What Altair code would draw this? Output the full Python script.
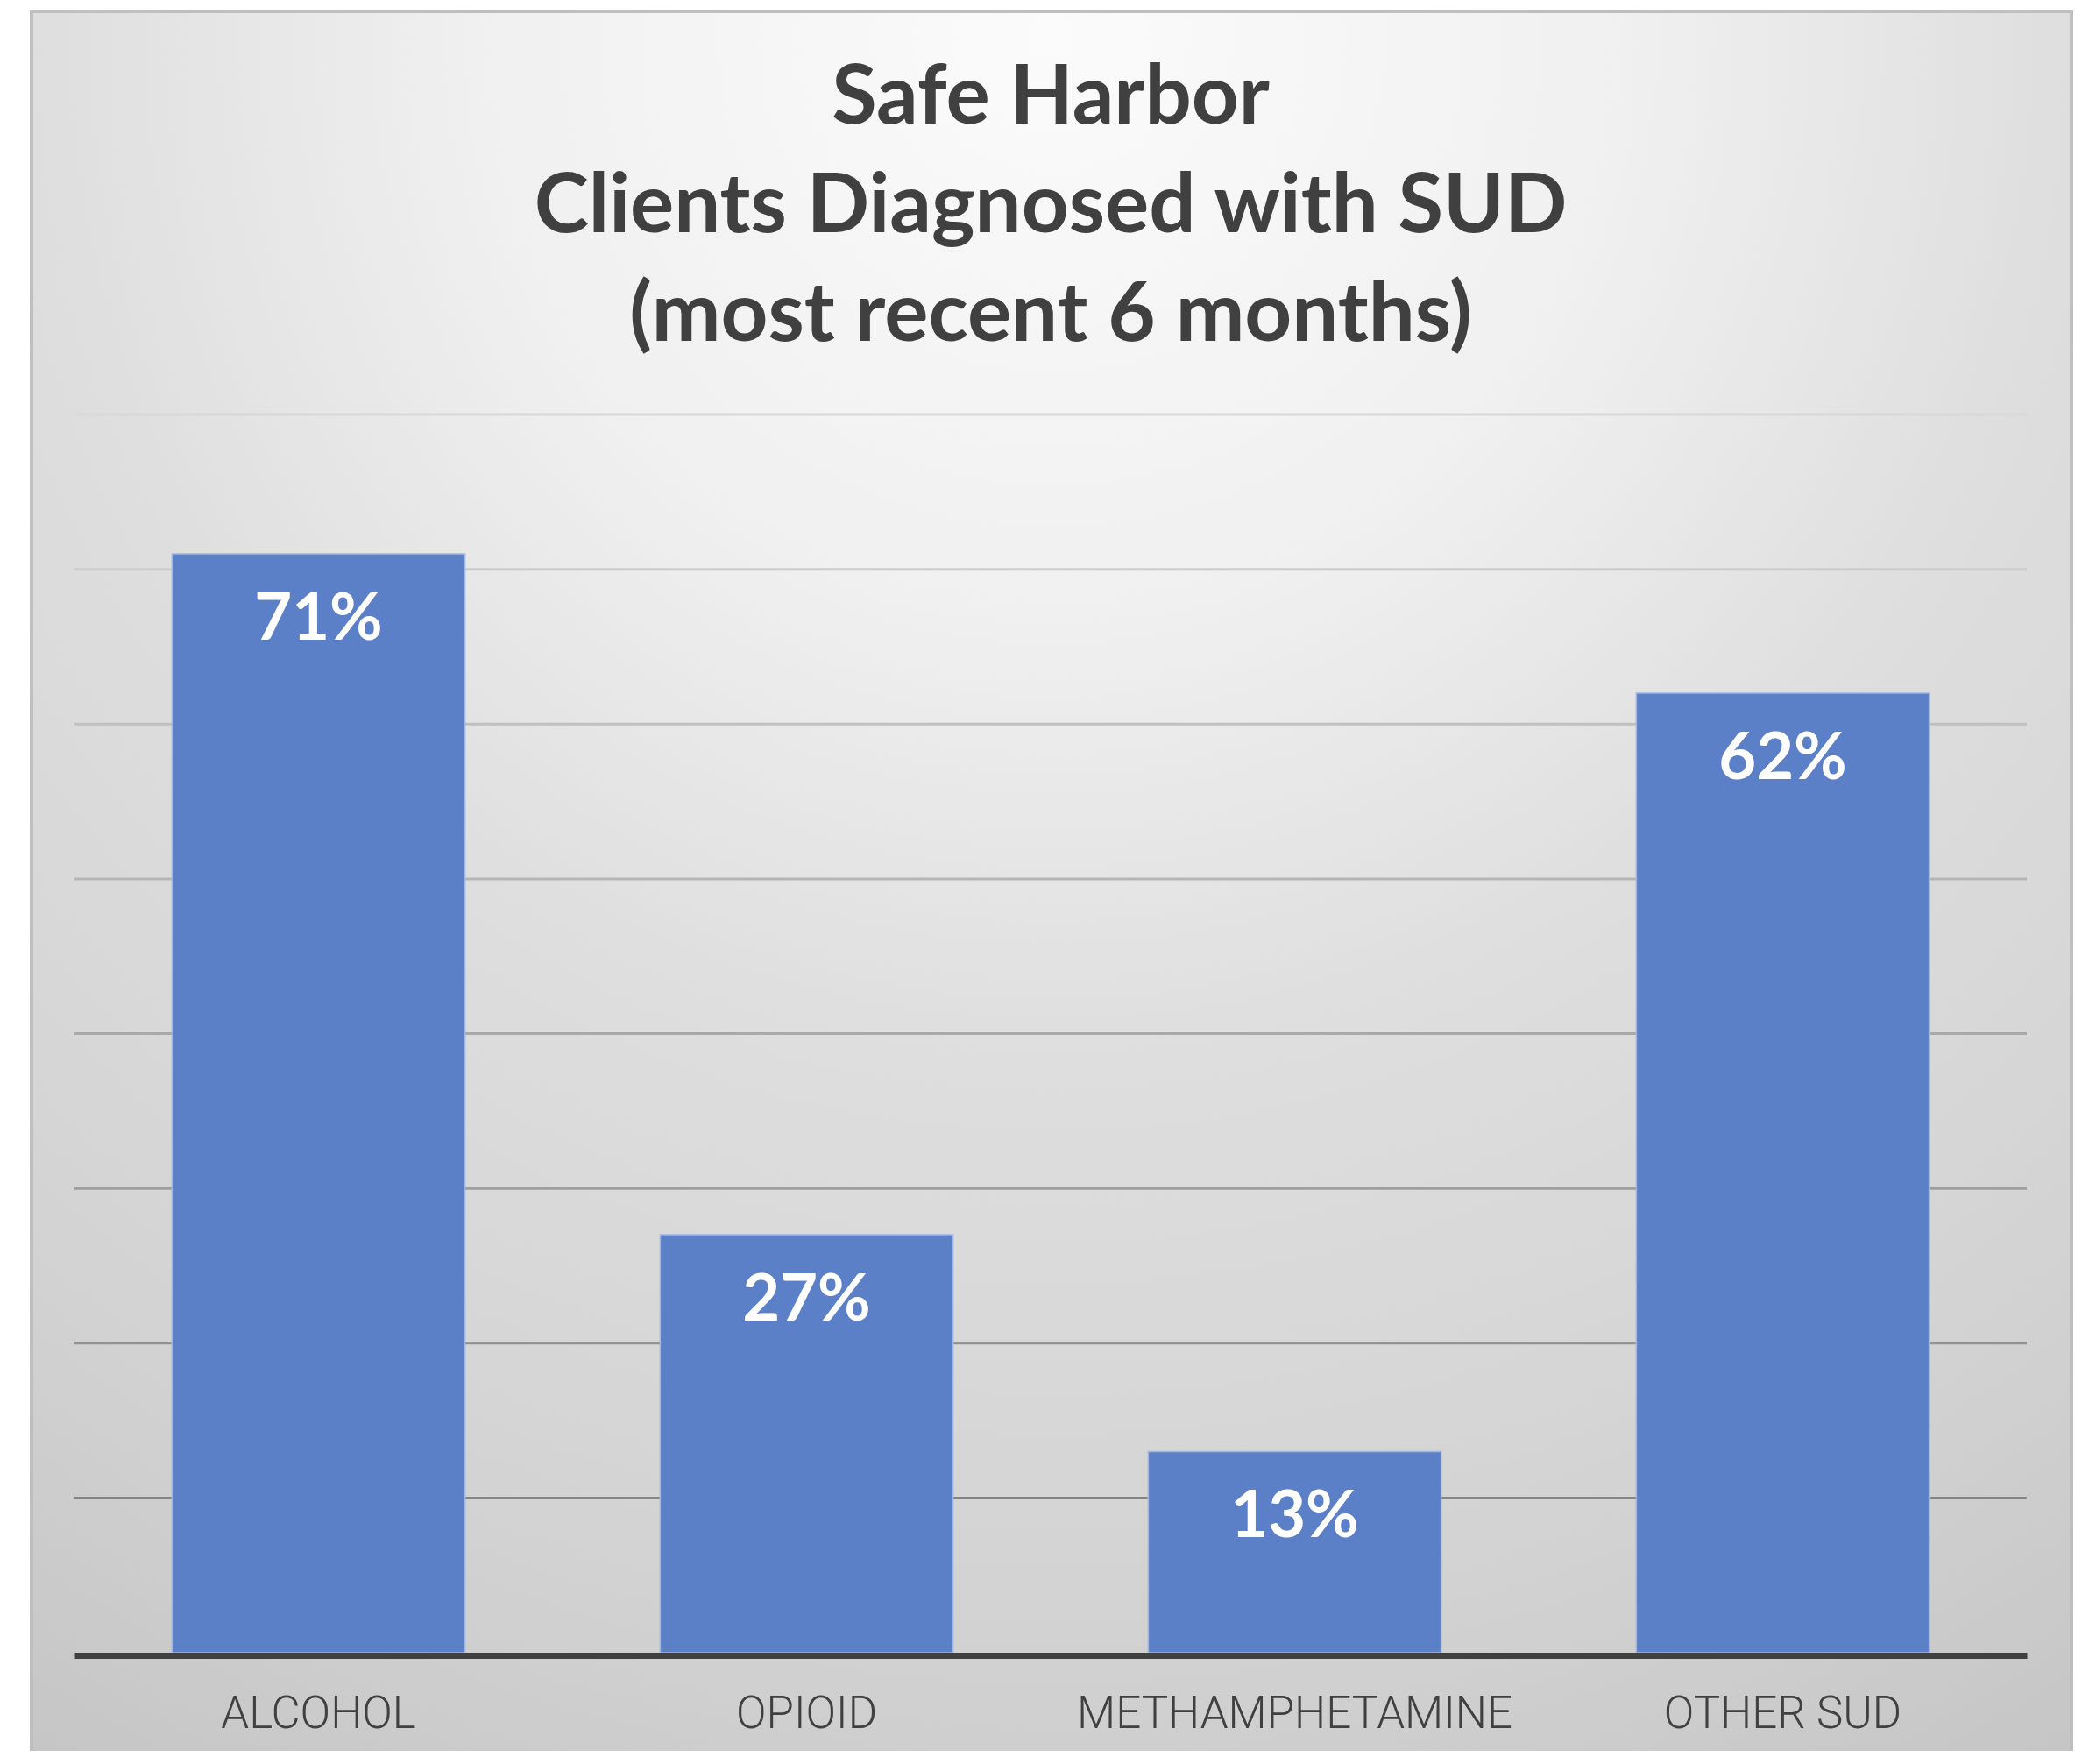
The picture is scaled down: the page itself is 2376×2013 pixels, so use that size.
import altair as alt
import pandas as pd

# ---- data ----
categories = ["ALCOHOL", "OPIOID", "METHAMPHETAMINE", "OTHER SUD"]
values = [0.71, 0.27, 0.13, 0.62]
value_labels = ["71%", "27%", "13%", "62%"]
grid_values = [0.1, 0.2, 0.3, 0.4, 0.5, 0.6, 0.7, 0.8]
title_lines = ["Safe Harbor", "Clients Diagnosed with SUD", "(most recent 6 months)"]

W, H = 2228, 1413

df = pd.DataFrame({"category": categories, "value": values, "label": value_labels})
grid_df = pd.DataFrame({"v": grid_values})
one = pd.DataFrame({"t": ["\n".join(title_lines)]})

yscale = alt.Scale(domain=[0, 0.8], nice=False, zero=True)
xscale = alt.Scale(paddingInner=0.4, paddingOuter=0.2)

bg_gradient = {
    "gradient": "radial",
    "x1": 0.5, "y1": 0.08, "r1": 0,
    "x2": 0.5, "y2": 0.08, "r2": 1.0,
    "stops": [
        {"offset": 0.0, "color": "#fbfbfb"},
        {"offset": 0.28, "color": "#f0f0f0"},
        {"offset": 0.5, "color": "#dedede"},
        {"offset": 0.7, "color": "#d6d6d6"},
        {"offset": 0.8, "color": "#d1d1d1"},
        {"offset": 1.0, "color": "#c4c4c4"},
    ],
}

background = alt.Chart(one).mark_rect(
    fill=bg_gradient, stroke="#bfbfbf", strokeWidth=4
).encode(
    x=alt.value(-49), x2=alt.value(W + 51),
    y=alt.value(-460), y2=alt.value(H + 140),
)

grid = alt.Chart(grid_df).mark_rule(strokeWidth=3).encode(
    y=alt.Y("v:Q", scale=yscale, axis=None),
    color=alt.Color("v:Q", scale=alt.Scale(domain=[0.1, 0.8], range=["#888888", "#d8d8d8"]), legend=None),
)

bars = alt.Chart(df).mark_bar(
    color="#5b80c8", stroke="#9fb5e2", strokeWidth=1.5
).encode(
    x=alt.X(
        "category:N", sort=categories, scale=xscale,
        axis=alt.Axis(
            title=None, labelAngle=0, ticks=False, grid=False,
            domain=True, domainColor="#404040", domainWidth=7,
            labelFont="Roboto", labelFontWeight=300,
            labelFontSize=51, labelColor="#404040", labelPadding=42,
            labelLimit=0, offset=3, zindex=1,
        ),
    ),
    y=alt.Y("value:Q", scale=yscale, axis=None),
)

labels = alt.Chart(df).mark_text(
    font="Lato", fontWeight="bold", fontSize=74, color="white",
    baseline="middle", dy=76,
).encode(
    x=alt.X("category:N", sort=categories, scale=xscale),
    y=alt.Y("value:Q", scale=yscale),
    text="label:N",
)

title = alt.Chart(one).mark_text(
    font="Lato", fontWeight="bold", fontSize=94, color="#404040",
    lineBreak="\n", lineHeight=124, baseline="middle", align="center",
).encode(
    x=alt.value(W / 2), y=alt.value(-360), text="t:N",
)

chart = alt.layer(background, grid, bars, labels, title).properties(
    width=W, height=H,
    autosize="none",
    padding={"left": 77, "top": 465, "right": 55, "bottom": 112},
    background="white",
).configure_view(stroke=None)

chart.save("out.html", embed_options={"renderer": "svg", "actions": False})
